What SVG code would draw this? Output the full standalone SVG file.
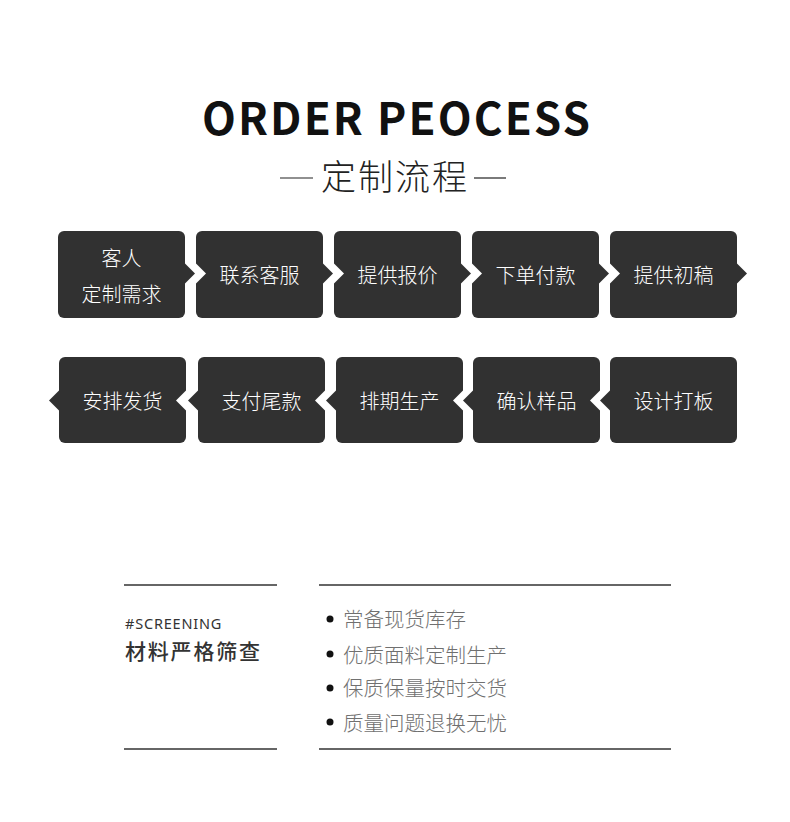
<svg xmlns="http://www.w3.org/2000/svg" width="790" height="822" viewBox="0 0 790 822">
<style>
.cjk{font-family:"Noto Sans CJK SC","Noto Sans",sans-serif;}
.box{fill:#313131;}
.bt{font-family:"Noto Sans CJK SC","Noto Sans",sans-serif;font-size:20px;font-weight:300;fill:#ffffff;text-anchor:middle;dominant-baseline:central;}
.tri{fill:#313131;}
.notch{fill:#ffffff;}
.rule{stroke:#333333;stroke-width:1.5;fill:none;}
.li{font-family:"Noto Sans CJK SC","Noto Sans",sans-serif;font-size:20.5px;font-weight:300;fill:#707070;dominant-baseline:central;}
</style>
<rect width="790" height="822" fill="#ffffff"/>

<g id="title">
<text x="396" y="135" class="cjk" font-size="44" font-weight="700" fill="#111111" text-anchor="middle" textLength="388" lengthAdjust="spacing">ORDER PEOCESS</text>
<line x1="280" y1="178" x2="313" y2="178" stroke="#222222" stroke-width="1.2"/>
<text x="395" y="174" class="cjk" font-size="35" font-weight="300" fill="#222222" text-anchor="middle" dominant-baseline="central" letter-spacing="2">定制流程</text>
<line x1="474" y1="178" x2="506" y2="178" stroke="#222222" stroke-width="1.2"/>
</g>

<!-- Row 1 -->
<g id="n1"><rect class="box" x="58" y="231" width="127" height="87" rx="6"/><text class="bt" x="121.5" y="257">客人</text><text class="bt" x="121.5" y="293">定制需求</text></g>
<g id="n2"><rect class="box" x="196" y="231" width="127" height="87" rx="6"/><text class="bt" x="259.5" y="274">联系客服</text></g>
<g id="n3"><rect class="box" x="334" y="231" width="127" height="87" rx="6"/><text class="bt" x="397.5" y="274">提供报价</text></g>
<g id="n4"><rect class="box" x="472" y="231" width="127" height="87" rx="6"/><text class="bt" x="535.5" y="274">下单付款</text></g>
<g id="n5"><rect class="box" x="610" y="231" width="127" height="87" rx="6"/><text class="bt" x="673.5" y="274">提供初稿</text></g>

<!-- Row 2 -->
<g id="n6"><rect class="box" x="59" y="357" width="127" height="86" rx="6"/><text class="bt" x="122.5" y="400">安排发货</text></g>
<g id="n7"><rect class="box" x="198" y="357" width="127" height="86" rx="6"/><text class="bt" x="261.5" y="400">支付尾款</text></g>
<g id="n8"><rect class="box" x="336" y="357" width="127" height="86" rx="6"/><text class="bt" x="399.5" y="400">排期生产</text></g>
<g id="n9"><rect class="box" x="473" y="357" width="127" height="86" rx="6"/><text class="bt" x="536.5" y="400">确认样品</text></g>
<g id="n10"><rect class="box" x="610" y="357" width="127" height="86" rx="6"/><text class="bt" x="673.5" y="400">设计打板</text></g>

<g id="connectors">
<polygon class="tri" points="185,263.5 195,273.5 185,283.5"/>
<polygon class="notch" points="196,263.5 206,273.5 196,283.5"/>
<polygon class="tri" points="323,263.5 333,273.5 323,283.5"/>
<polygon class="notch" points="334,263.5 344,273.5 334,283.5"/>
<polygon class="tri" points="461,263.5 471,273.5 461,283.5"/>
<polygon class="notch" points="472,263.5 482,273.5 472,283.5"/>
<polygon class="tri" points="599,263.5 609,273.5 599,283.5"/>
<polygon class="notch" points="610,263.5 620,273.5 610,283.5"/>
<polygon class="tri" points="737,263.5 747,273.5 737,283.5"/>
<polygon class="tri" points="59,390.5 49,400.5 59,410.5"/>
<polygon class="tri" points="198,390.5 188,400.5 198,410.5"/>
<polygon class="notch" points="186,390.5 176,400.5 186,410.5"/>
<polygon class="tri" points="336,390.5 326,400.5 336,410.5"/>
<polygon class="notch" points="325,390.5 315,400.5 325,410.5"/>
<polygon class="tri" points="473,390.5 463,400.5 473,410.5"/>
<polygon class="notch" points="463,390.5 453,400.5 463,410.5"/>
<polygon class="tri" points="610,390.5 600,400.5 610,410.5"/>
<polygon class="notch" points="600,390.5 590,400.5 600,410.5"/>
</g>

<g id="screening">
<line class="rule" x1="124" y1="585" x2="277" y2="585"/>
<line class="rule" x1="124" y1="749" x2="277" y2="749"/>
<line class="rule" x1="319" y1="585" x2="671" y2="585"/>
<line class="rule" x1="319" y1="749" x2="671" y2="749"/>
<text x="125" y="629" font-family="'Noto Sans','Noto Sans CJK SC',sans-serif" font-size="14.5" fill="#333333" letter-spacing="0.8">#SCREENING</text>
<text x="125" y="659" class="cjk" font-size="21" font-weight="500" fill="#333333" letter-spacing="1.8">材料严格筛查</text>
<circle cx="330" cy="619" r="3.5" fill="#111111"/>
<text class="li" x="343" y="618">常备现货库存</text>
<circle cx="330" cy="654" r="3.5" fill="#111111"/>
<text class="li" x="343" y="654">优质面料定制生产</text>
<circle cx="330" cy="688" r="3.5" fill="#111111"/>
<text class="li" x="343" y="687">保质保量按时交货</text>
<circle cx="330" cy="722" r="3.5" fill="#111111"/>
<text class="li" x="343" y="722">质量问题退换无忧</text>
</g>
</svg>
